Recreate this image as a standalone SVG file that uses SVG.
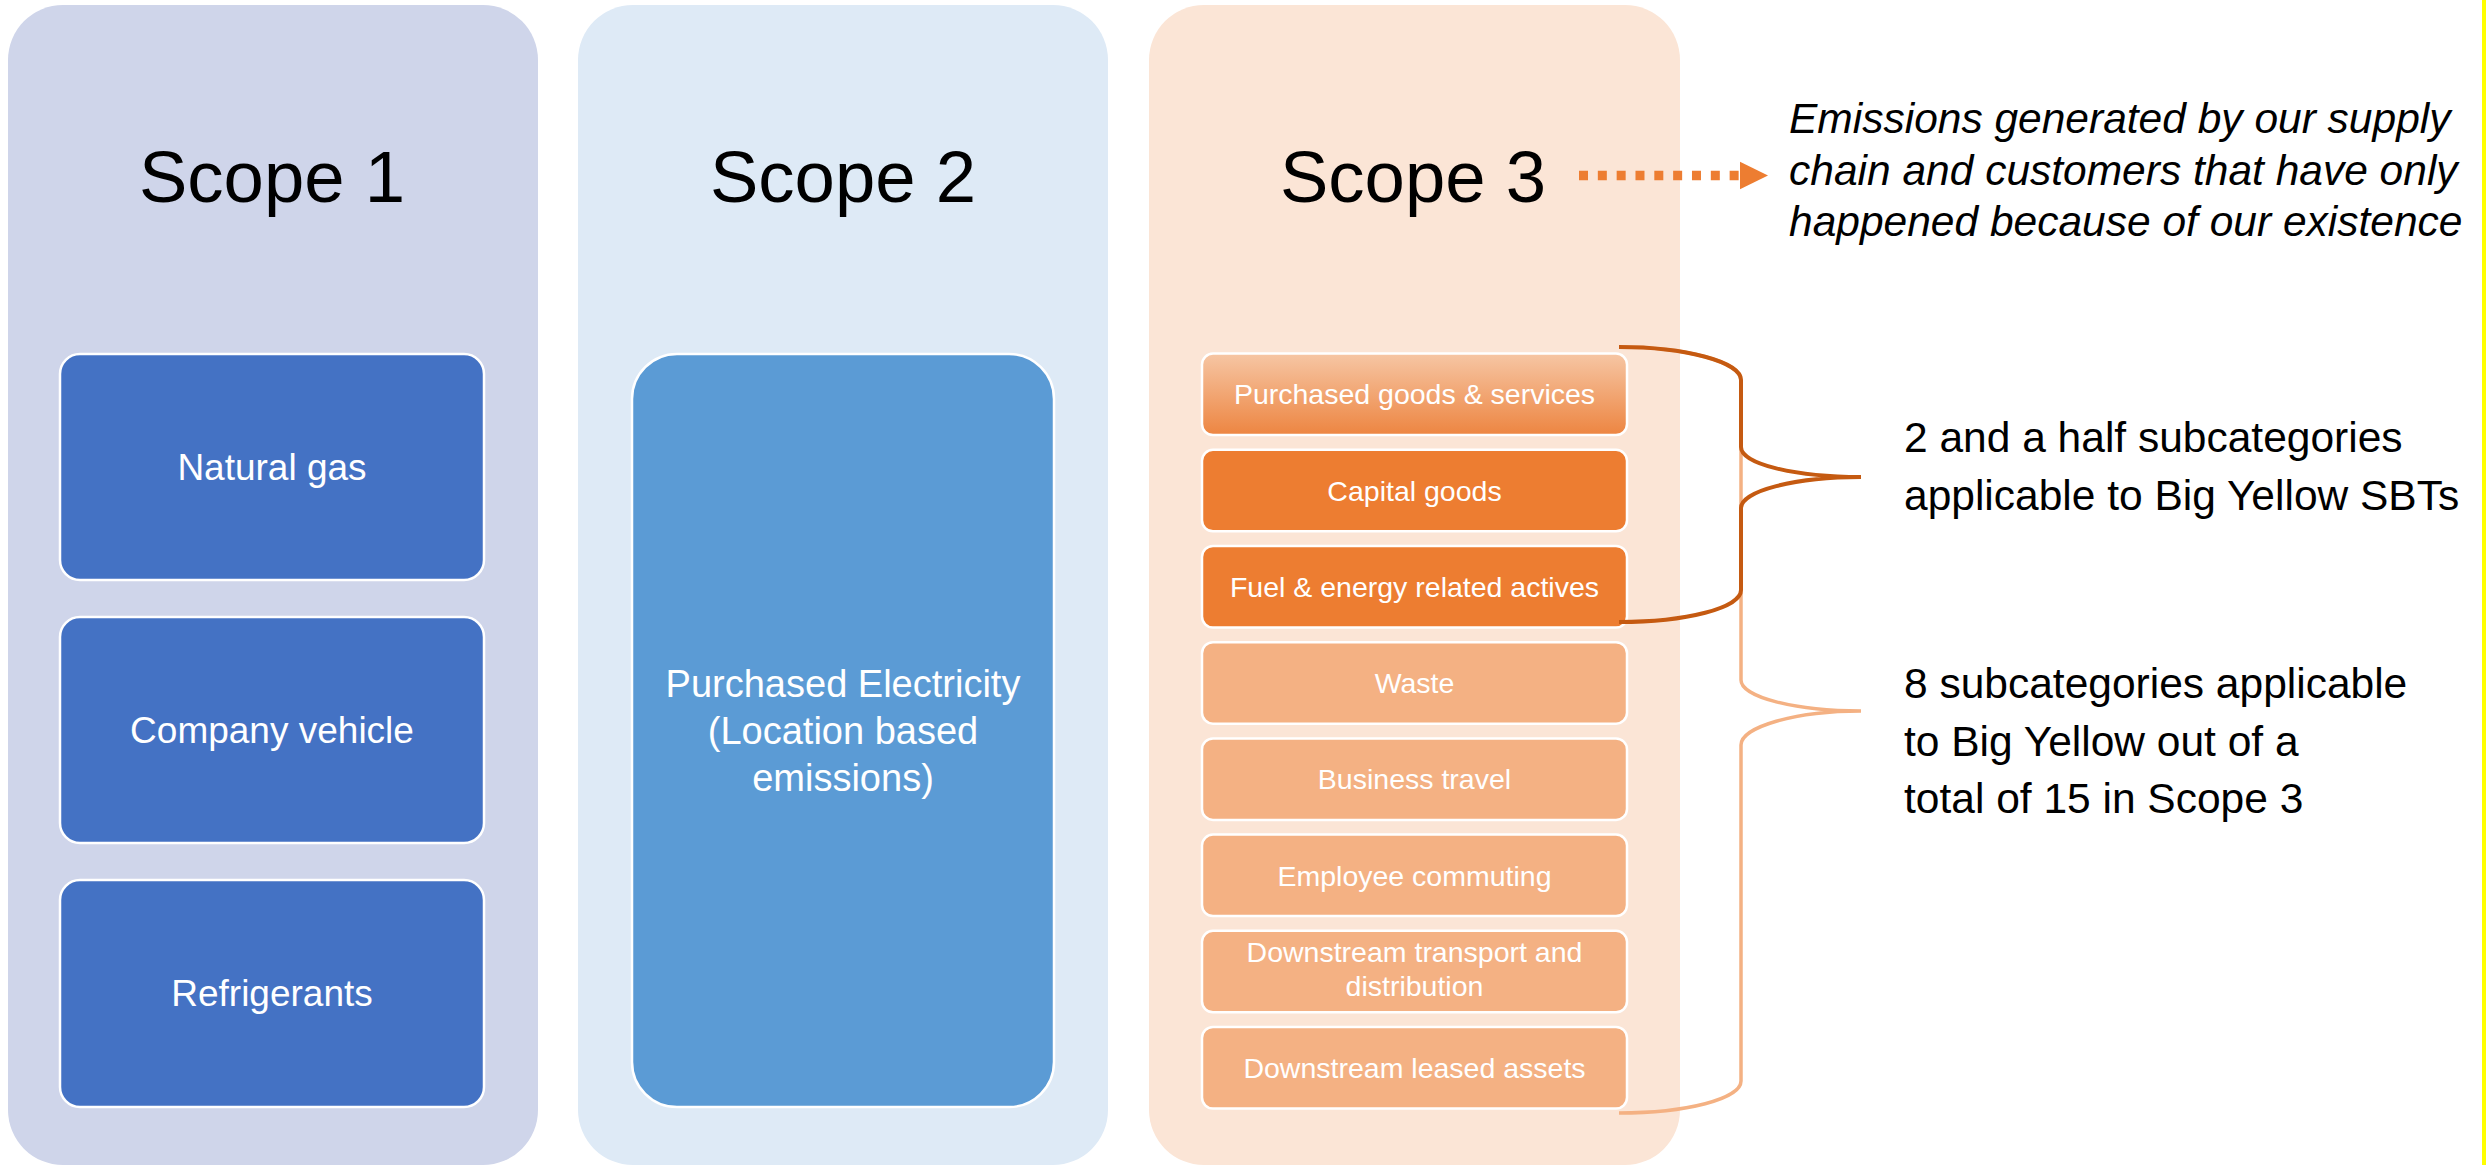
<svg xmlns="http://www.w3.org/2000/svg" width="2486" height="1165" viewBox="0 0 2486 1165">
<defs>
<style>
.t{font-family:"Liberation Sans",Arial,sans-serif;}
.title{font-size:72.5px;fill:#000;text-anchor:middle;}
.w{fill:#fff;text-anchor:middle;}
.s1{fill:#4472C4;stroke:#fff;stroke-width:2.5;}
.s2{fill:#5B9BD5;stroke:#fff;stroke-width:2.5;}
.s3{stroke:#fff;stroke-width:2.5;}
.lt{fill:#F4B183;}
.dk{fill:#ED7D31;}
.note{font-size:42.5px;fill:#000;}
</style>
<linearGradient id="g1" x1="0" y1="0" x2="0" y2="1">
<stop offset="0" stop-color="#F6C6A4"/>
<stop offset="1" stop-color="#ED8541"/>
</linearGradient>
</defs>
<rect x="0" y="0" width="2486" height="1165" fill="#fff"/>
<rect x="2482" y="0" width="4" height="1165" fill="#FFFF00"/>

<g id="scope1">
<rect x="8" y="5" width="530" height="1160" rx="55" fill="#CFD5EA"/>
<text class="t title" x="272" y="202">Scope 1</text>
</g>
<g id="natural-gas">
<rect class="s1" x="60" y="354" width="424" height="226" rx="20"/>
<text class="t w" x="272" y="480" font-size="37">Natural gas</text>
</g>
<g id="company-vehicle">
<rect class="s1" x="60" y="617" width="424" height="226" rx="20"/>
<text class="t w" x="272" y="743" font-size="37">Company vehicle</text>
</g>
<g id="refrigerants">
<rect class="s1" x="60" y="880" width="424" height="227" rx="20"/>
<text class="t w" x="272" y="1006" font-size="37">Refrigerants</text>
</g>

<g id="scope2">
<rect x="578" y="5" width="530" height="1160" rx="55" fill="#DEEAF6"/>
<text class="t title" x="843" y="202">Scope 2</text>
</g>
<g id="purchased-electricity">
<rect class="s2" x="632" y="354" width="422" height="753" rx="45"/>
<text class="t w" font-size="38"><tspan x="843" y="697">Purchased Electricity</tspan><tspan x="843" y="744">(Location based</tspan><tspan x="843" y="791">emissions)</tspan></text>
</g>

<g id="scope3">
<rect x="1149" y="5" width="531" height="1160" rx="55" fill="#FBE5D6"/>
<text class="t title" x="1413" y="202">Scope 3</text>
</g>
<g id="s3-purchased-goods">
<rect class="s3" x="1202" y="353.6" width="425" height="81.5" rx="11" fill="url(#g1)"/>
<text class="t w" x="1414.5" y="404" font-size="28.5">Purchased goods &amp; services</text>
</g>
<g id="s3-capital-goods">
<rect class="s3 dk" x="1202" y="449.8" width="425" height="81.5" rx="11"/>
<text class="t w" x="1414.5" y="500.5" font-size="28.5">Capital goods</text>
</g>
<g id="s3-fuel-energy">
<rect class="s3 dk" x="1202" y="546" width="425" height="81.5" rx="11"/>
<text class="t w" x="1414.5" y="596.5" font-size="28.5">Fuel &amp; energy related actives</text>
</g>
<g id="s3-waste">
<rect class="s3 lt" x="1202" y="642.2" width="425" height="81.5" rx="11"/>
<text class="t w" x="1414.5" y="693" font-size="28.5">Waste</text>
</g>
<g id="s3-business-travel">
<rect class="s3 lt" x="1202" y="738.4" width="425" height="81.5" rx="11"/>
<text class="t w" x="1414.5" y="789" font-size="28.5">Business travel</text>
</g>
<g id="s3-employee-commuting">
<rect class="s3 lt" x="1202" y="834.6" width="425" height="81.5" rx="11"/>
<text class="t w" x="1414.5" y="885.5" font-size="28.5">Employee commuting</text>
</g>
<g id="s3-downstream-transport">
<rect class="s3 lt" x="1202" y="930.8" width="425" height="81.5" rx="11"/>
<text class="t w" font-size="28.5"><tspan x="1414.5" y="962">Downstream transport and</tspan><tspan x="1414.5" y="996">distribution</tspan></text>
</g>
<g id="s3-downstream-leased">
<rect class="s3 lt" x="1202" y="1027" width="425" height="81.5" rx="11"/>
<text class="t w" x="1414.5" y="1078" font-size="28.5">Downstream leased assets</text>
</g>

<g id="note-scope3">
<text class="t" font-size="42.5" font-style="italic" fill="#000"><tspan x="1789" y="133">Emissions generated by our supply</tspan><tspan x="1789" y="185">chain and customers that have only</tspan><tspan x="1789" y="236">happened because of our existence</tspan></text>
</g>
<g id="note-sbt">
<text class="t note"><tspan x="1904" y="452">2 and a half subcategories</tspan><tspan x="1904" y="510">applicable to Big Yellow SBTs</tspan></text>
</g>
<g id="note-eight">
<text class="t note"><tspan x="1904" y="698">8 subcategories applicable</tspan><tspan x="1904" y="755.5">to Big Yellow out of a</tspan><tspan x="1904" y="813">total of 15 in Scope 3</tspan></text>
</g>

<g id="connectors" fill="none">
<path d="M1619,347 C1686,347 1741,362 1741,380 L1741,680 C1741,697 1795,711 1861,711 C1795,711 1741,727 1741,745 L1741,1081 C1741,1099 1686,1113 1619,1113" stroke="#F4B183" stroke-width="3.5"/>
<path d="M1619,347 C1686,347 1741,362 1741,380 L1741,447 C1741,464 1795,477 1861,477 C1795,477 1741,491 1741,508 L1741,590 C1741,608 1686,622 1619,622" stroke="#C55A11" stroke-width="4"/>
<line x1="1579" y1="175.5" x2="1740" y2="175.5" stroke="#ED7D31" stroke-width="9.3" stroke-dasharray="9 9.83"/>
<polygon points="1740,161.7 1768,175.5 1740,189.3" fill="#ED7D31"/>
</g>
</svg>
